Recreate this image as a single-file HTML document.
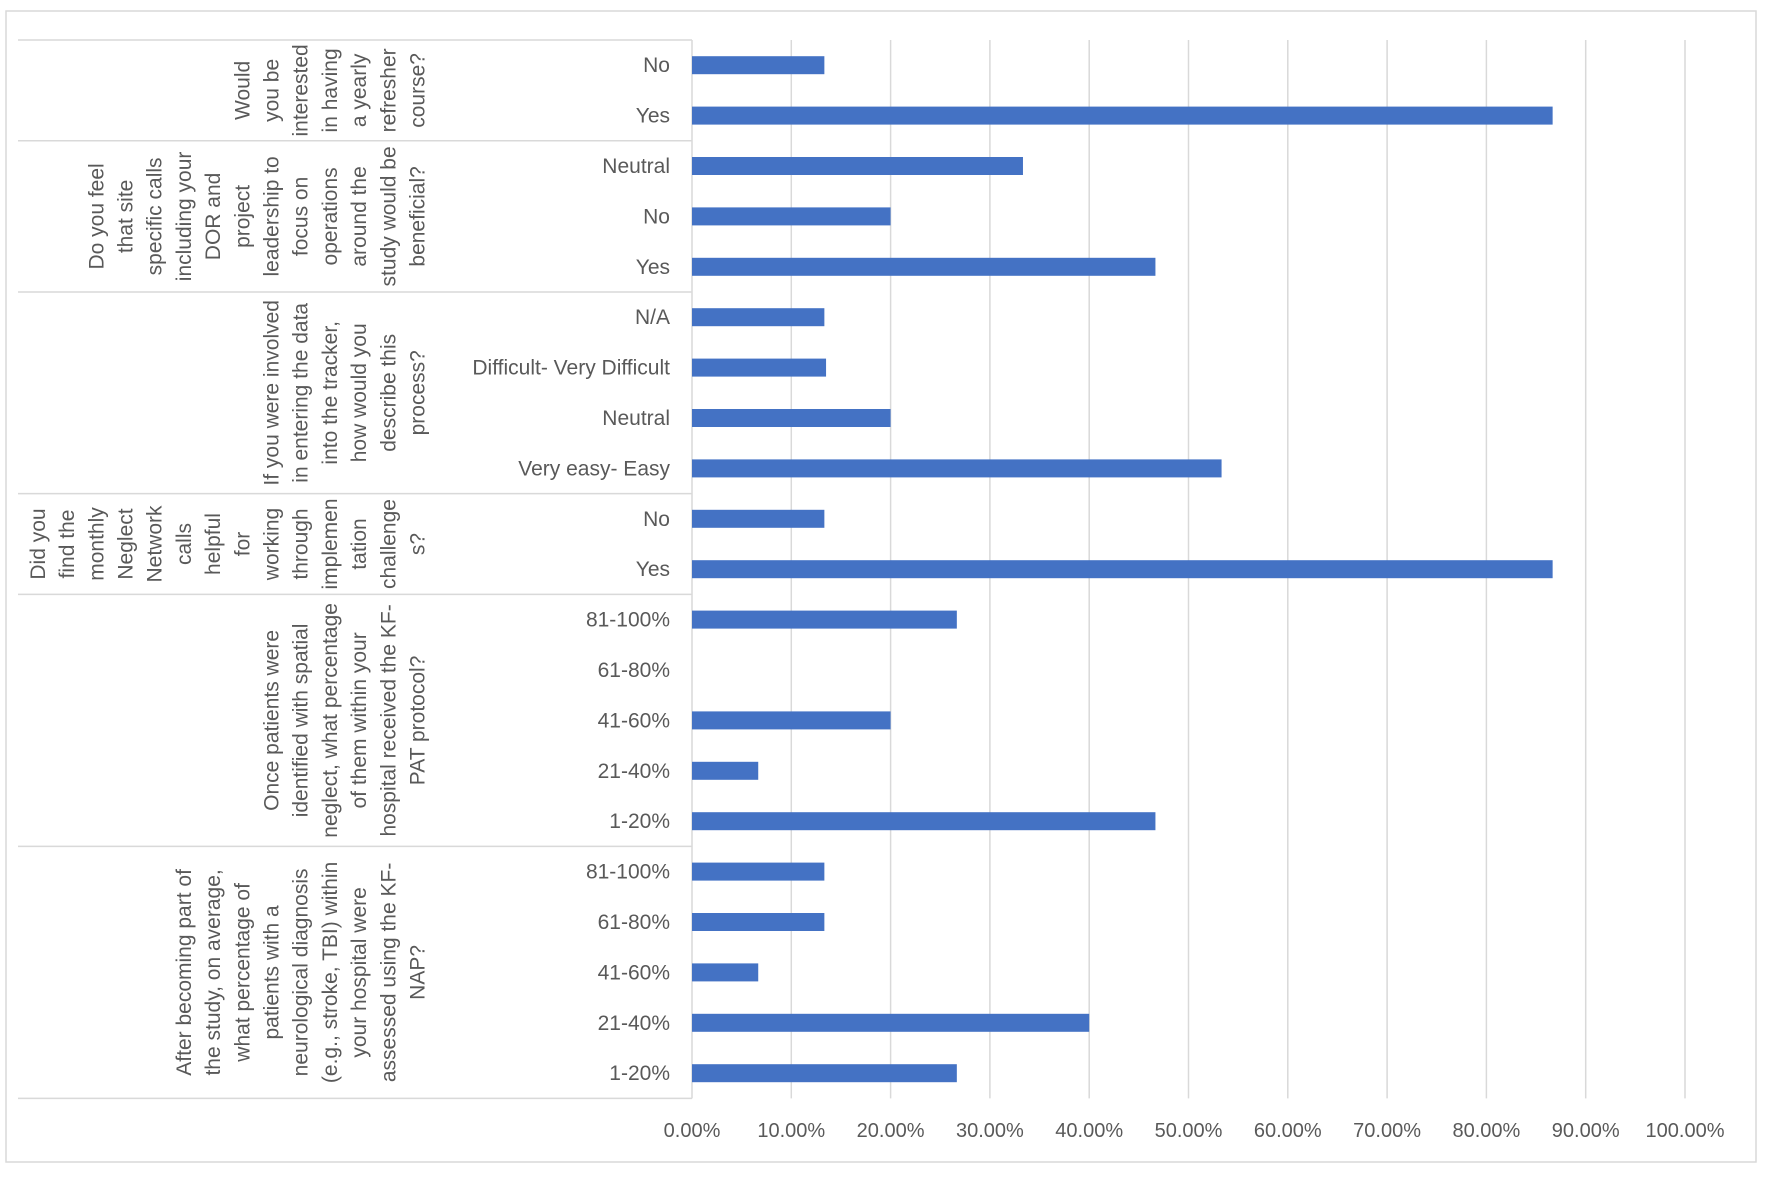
<!DOCTYPE html>
<html><head><meta charset="utf-8"><style>
html,body{margin:0;padding:0;background:#fff;}
svg{display:block;font-family:"Liberation Sans",sans-serif;}
</style></head><body>
<svg id="chart" width="1772" height="1180">
<rect x="6" y="11" width="1750" height="1151" fill="#fff" stroke="#d9d9d9" stroke-width="1.5"/>
<g id="grid"></g><g id="seps"></g><g id="bars"></g><g id="cats"></g><g id="groups"></g><g id="ticks"></g>
</svg>
<script>
const categories = ["No","Yes","Neutral","No","Yes","N/A","Difficult- Very Difficult","Neutral","Very easy- Easy","No","Yes","81-100%","61-80%","41-60%","21-40%","1-20%","81-100%","61-80%","41-60%","21-40%","1-20%"];
const values = [13.33,86.67,33.33,20,46.67,13.33,13.5,20,53.33,13.33,86.67,26.67,0,20,6.67,46.67,13.33,13.33,6.67,40,26.67];
const tickValues = [0,10,20,30,40,50,60,70,80,90,100];
const tickLabels = ["0.00%","10.00%","20.00%","30.00%","40.00%","50.00%","60.00%","70.00%","80.00%","90.00%","100.00%"];
const groupSizes = [2,3,4,2,5,5];
const groupLabels = [
 ["Would","you be","interested","in having","a yearly","refresher","course?"],
 ["Do you feel","that site","specific calls","including your","DOR and","project","leadership to","focus on","operations","around the","study would be","beneficial?"],
 ["If you were involved","in entering the data","into the tracker,","how would you","describe this","process?"],
 ["Did you","find the","monthly","Neglect","Network","calls","helpful","for","working","through","implemen","tation","challenge","s?"],
 ["Once patients were","identified with spatial","neglect, what percentage","of them within your","hospital received the KF-","PAT protocol?"],
 ["After becoming part of","the study, on average,","what percentage of","patients with a","neurological diagnosis","(e.g., stroke, TBI) within","your hospital were","assessed using the KF-","NAP?"]
];
const NS="http://www.w3.org/2000/svg";
const X0=692, PX=9.93, TOP=40, ROW=50.4, BOT=TOP+ROW*categories.length;
const xs=v=>X0+v*PX, yc=i=>TOP+ROW*(i+0.5);
function mk(tag,attrs,parent,txt){const e=document.createElementNS(NS,tag);for(const k in attrs)e.setAttribute(k,attrs[k]);if(txt!==undefined)e.textContent=txt;document.getElementById(parent).appendChild(e);return e;}
tickValues.forEach((t,i)=>{
 const g=mk('line',{x1:xs(t),x2:xs(t),y1:TOP,y2:BOT,stroke:'#d9d9d9','stroke-width':1.5},'grid');
 
 
 const l=mk('text',{x:xs(t),y:1137,'text-anchor':'middle','font-size':20,fill:'#595959'},'ticks',tickLabels[i]);
 
 
});
categories.forEach((c,i)=>{
 const b=mk('rect',{x:X0,y:yc(i)-9,width:Math.max(0,xs(values[i])-X0),height:18,fill:'#4472c4'},'bars');
 
 
 const t=mk('text',{x:670,y:yc(i)+7,'text-anchor':'end','font-size':21,fill:'#595959'},'cats',c);
 
 
});
let start=0;
const s0=mk('line',{x1:18,x2:X0,y1:TOP,y2:TOP,stroke:'#d9d9d9','stroke-width':1.5},'seps');


groupSizes.forEach((n,gi)=>{
 const yTop=TOP+start*ROW, yBot=TOP+(start+n)*ROW, cy=(yTop+yBot)/2;
 const s=mk('line',{x1:18,x2:X0,y1:yBot,y2:yBot,stroke:'#d9d9d9','stroke-width':1.5},'seps');
 
 
 const lines=groupLabels[gi], m=lines.length;
 lines.forEach((ln,li)=>{
  const x=418-(m-1-li)*29.2;
  const t=mk('text',{x:x,y:cy,'text-anchor':'middle','dominant-baseline':'central','font-size':21,fill:'#595959',transform:`rotate(-90 ${x} ${cy})`},'groups',ln);
  
  
 });
 start+=n;
});
</script>
</body></html>
